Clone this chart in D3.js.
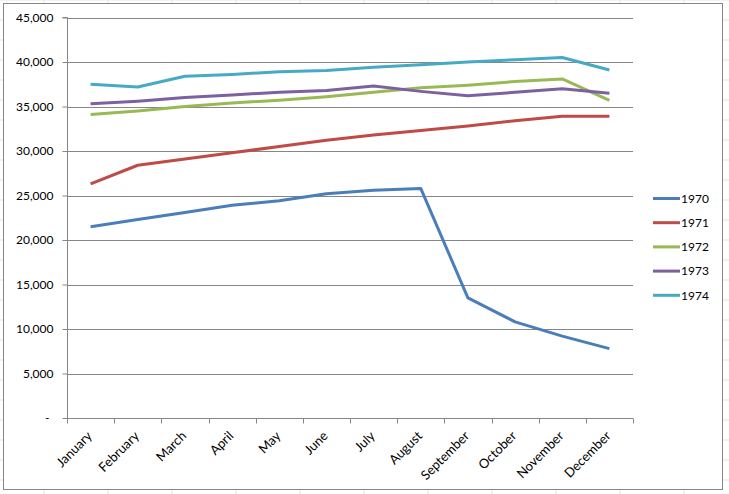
<!DOCTYPE html>
<html><head><meta charset="utf-8">
<script src="https://cdn.jsdelivr.net/npm/d3@7/dist/d3.min.js"></script>
<style>body{margin:0;background:#fff;}svg{display:block;font-family:Lato,"Open Sans",sans-serif;}</style>
</head><body>
<svg id="c" width="729" height="494"></svg>
<script>
const months = ["January","February","March","April","May","June","July","August","September","October","November","December"];
const years = ["1970","1971","1972","1973","1974"];
const colors = ["#4A7EBB","#BE4B48","#98B954","#7D60A0","#46AAC5"];
const v1970 = [21500,22300,23100,23900,24400,25200,25600,25800,13500,10800,9200,7800];
const v1971 = [26300,28400,29100,29800,30500,31200,31800,32300,32800,33400,33900,33900];
const v1972 = [34100,34500,35000,35400,35700,36100,36600,37100,37400,37800,38100,35700];
const v1973 = [35300,35600,36000,36300,36600,36800,37300,36700,36200,36600,37000,36500];
const v1974 = [37500,37200,38400,38600,38900,39050,39400,39700,40000,40250,40500,39100];
const series = [v1970,v1971,v1972,v1973,v1974];
const yTicks = [0,5000,10000,15000,20000,25000,30000,35000,40000,45000];

const svg = d3.select("#c");
// spreadsheet background grid
const bg = svg.append("g");
for (let x = 44; x < 729; x += 64) bg.append("line").attr("x1",x).attr("x2",x).attr("y1",0).attr("y2",494).attr("stroke","#e3e3e3");
for (let y = 0; y < 494; y += 20) bg.append("line").attr("x1",0).attr("x2",729).attr("y1",y).attr("y2",y).attr("stroke","#e3e3e3");
// chart area
svg.append("rect").attr("x",3.5).attr("y",3.5).attr("width",719).attr("height",486).attr("fill","#fff").attr("stroke","#868686");

const L = 67, R = 633, T = 17.5, B = 418;
const x = d3.scaleBand().domain(months).range([L,R]);
const y = d3.scaleLinear().domain([0,45000]).range([B,T]);

// gridlines
svg.append("g").selectAll("line").data(yTicks.filter(d=>d>0)).join("line")
  .attr("x1",L).attr("x2",R).attr("y1",d=>Math.round(y(d))+0.5).attr("y2",d=>Math.round(y(d))+0.5)
  .attr("stroke","#868686").attr("stroke-width",1);

// y axis
const fmt = d => d===0 ? "-" : d3.format(",")(d);
const ya = svg.append("g").attr("transform",`translate(${L+0.5},0)`)
  .call(d3.axisLeft(y).tickValues(yTicks).tickFormat(fmt).tickSize(5).tickPadding(9));
ya.select(".domain").attr("stroke","#868686").attr("d",`M-5,${T}H0V${B}`);
ya.selectAll(".tick line").attr("stroke","#868686");
ya.selectAll(".tick text").attr("font-size",12).attr("fill","#000").attr("font-family","Lato,sans-serif");
ya.selectAll(".tick").filter(d=>d===0).select("text").attr("dx",-4);

// x axis with ticks at category boundaries
const xa = svg.append("g").attr("transform",`translate(0,${Math.round(B)+0.5})`);
xa.append("line").attr("x1",L).attr("x2",R).attr("stroke","#868686");
const bounds = months.map(m=>x(m)).concat([R]);
xa.selectAll("line.t").data(bounds).join("line").attr("class","t")
  .attr("x1",d=>Math.round(d)+0.5).attr("x2",d=>Math.round(d)+0.5).attr("y1",0).attr("y2",5).attr("stroke","#868686");
xa.selectAll("text").data(months).join("text")
  .attr("transform",d=>`translate(${x(d)+x.bandwidth()/2-1},${15}) rotate(-45)`)
  .attr("text-anchor","end").attr("dy","0.35em").attr("font-size",13).attr("fill","#000").text(d=>d);

// lines
const line = d3.line().x((d,i)=>x(months[i])+x.bandwidth()/2).y(d=>y(d));
svg.append("g").selectAll("path").data(series).join("path")
  .attr("d",line).attr("fill","none").attr("stroke",(d,i)=>colors[i])
  .attr("stroke-width",3).attr("stroke-linejoin","round");

// legend
const lg = svg.append("g").selectAll("g").data(years).join("g")
  .attr("transform",(d,i)=>`translate(653,${198.5+i*24.2})`);
lg.append("line").attr("x1",0).attr("x2",27).attr("stroke",(d,i)=>colors[i]).attr("stroke-width",3);
lg.append("text").attr("x",28).attr("dy","0.35em").attr("font-size",12).attr("fill","#000").text(d=>d);
</script>
</body></html>
